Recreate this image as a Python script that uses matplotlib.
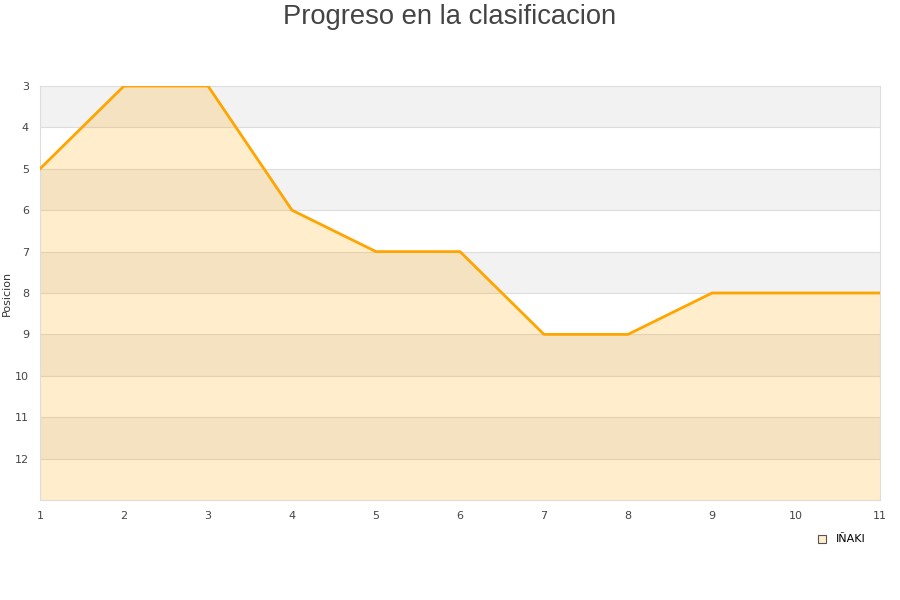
import numpy as np
import matplotlib.pyplot as plt
from matplotlib.patches import Rectangle

# data
jornadas = [1, 2, 3, 4, 5, 6, 7, 8, 9, 10, 11]
posicion = [5, 3, 3, 6, 7, 7, 9, 9, 8, 8, 8]
jugador = 'IÑAKI'
y_ticks = list(range(3, 13))

fig = plt.figure(figsize=(9, 6), dpi=100)
ax = fig.add_axes([40 / 900, 1 - 500 / 600, 840 / 900, 414 / 600])

# alternate bands
for yb in range(3, 13, 2):
    ax.axhspan(yb, yb + 1, color='#f2f2f2', zorder=0, linewidth=0)
for yb in range(4, 13):
    ax.axhline(yb, color='#dddddd', linewidth=0.8, zorder=1)

ax.fill_between(jornadas, posicion, 13, color='#ffa500', alpha=0.2,
                linewidth=0, zorder=2)
ax.plot(jornadas, posicion, color='#ffa500', linewidth=2, zorder=3)

ax.set_xlim(1, 11)
ax.set_ylim(13, 3)
ax.set_xticks(jornadas)
ax.set_yticks(y_ticks)
ax.tick_params(length=0, labelsize=8, colors='#444444', pad=8)
for s in ax.spines.values():
    s.set_color('#dddddd')
    s.set_linewidth(0.8)
ax.set_ylabel('Posicion', fontsize=8, color='#333333', labelpad=8)
ax.yaxis.set_label_coords(-0.034, 0.5)

fig.text(0.5, 0.972, 'Progreso en la clasificacion', ha='center', va='center',
         fontsize=19.7, color='#444444', family='Liberation Sans')

# legend
fig.patches.append(Rectangle((818 / 900, 1 - 543 / 600), 8 / 900, 8 / 600,
                             transform=fig.transFigure, facecolor='#ffeecc',
                             edgecolor='#555555', linewidth=0.8))
fig.text(836 / 900, 1 - 539 / 600, jugador, ha='left', va='center',
         fontsize=8, color='#000000')

fig.savefig('out.png', dpi=100)
